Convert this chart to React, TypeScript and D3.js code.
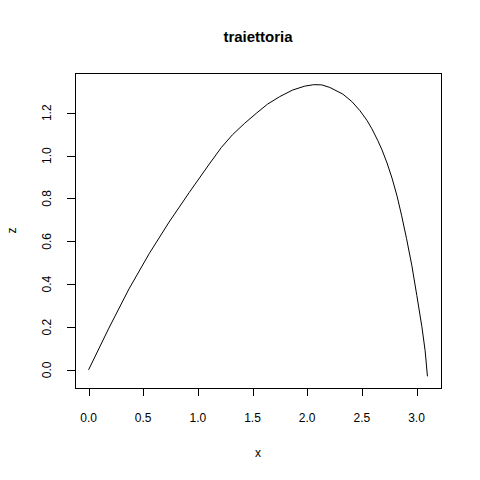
// App.tsx
import React, { useRef, useEffect } from "react";
import * as d3 from "d3";

// punti della traiettoria
const xs = [0, 0.186, 0.37, 0.554, 0.737, 0.921, 1.105, 1.215, 1.316, 1.426, 1.536, 1.637, 1.748, 1.867, 1.977, 2.06, 2.133, 2.207, 2.326, 2.409, 2.482, 2.546, 2.592, 2.647, 2.684, 2.73, 2.776, 2.822, 2.863, 2.909, 2.957, 3.003, 3.049, 3.079, 3.1];
const zs = [0, 0.195, 0.378, 0.542, 0.69, 0.828, 0.961, 1.038, 1.097, 1.15, 1.198, 1.24, 1.275, 1.306, 1.324, 1.331, 1.33, 1.318, 1.287, 1.252, 1.21, 1.165, 1.125, 1.069, 1.027, 0.966, 0.895, 0.811, 0.722, 0.612, 0.488, 0.347, 0.202, 0.089, -0.03];

const xTicks = [0, 0.5, 1, 1.5, 2, 2.5, 3];
const zTicks = [0, 0.2, 0.4, 0.6, 0.8, 1.0, 1.2];

const title = "traiettoria";
const xLabel = "x";
const zLabel = "z";

const App: React.FC = () => {
  const ref = useRef<SVGSVGElement | null>(null);

  useEffect(() => {
    if (!ref.current) return;

    const width = 480;
    const height = 480;
    const left = 75, right = 441, top = 73, bottom = 388;
    const font = "'Liberation Sans', Arial, Helvetica, sans-serif";

    // come in R: estensione del 4% oltre i dati
    const pad = (e: [number, number]) => {
      const d = (e[1] - e[0]) * 0.04;
      return [e[0] - d, e[1] + d];
    };
    const x = d3.scaleLinear().domain(pad(d3.extent(xs) as [number, number])).range([left, right]);
    const y = d3.scaleLinear().domain(pad(d3.extent(zs) as [number, number])).range([bottom, top]);

    const svg = d3
      .select(ref.current)
      .attr("width", width)
      .attr("height", height)
      .attr("style", "position:absolute; left:0; top:0; background:#fff;");

    svg.append("rect")
      .attr("width", width)
      .attr("height", height)
      .attr("fill", "#fff");

    // riquadro
    svg.append("rect")
      .attr("x", left + 0.5)
      .attr("y", top + 0.5)
      .attr("width", right - left)
      .attr("height", bottom - top)
      .attr("fill", "none")
      .attr("stroke", "#000")
      .attr("shape-rendering", "crispEdges");

    // asse x
    const gx = svg.append("g");
    gx.selectAll("line")
      .data(xTicks)
      .join("line")
      .attr("x1", (d) => Math.round(x(d)) + 0.5)
      .attr("x2", (d) => Math.round(x(d)) + 0.5)
      .attr("y1", bottom)
      .attr("y2", bottom + 8)
      .attr("stroke", "#000")
      .attr("shape-rendering", "crispEdges");
    gx.selectAll("text")
      .data(xTicks)
      .join("text")
      .attr("x", (d) => x(d))
      .attr("y", 421.5)
      .attr("text-anchor", "middle")
      .attr("font-family", font)
      .attr("font-size", 12)
      .text((d) => d3.format(".1f")(d));

    // asse z
    const gy = svg.append("g");
    gy.selectAll("line")
      .data(zTicks)
      .join("line")
      .attr("y1", (d) => Math.round(y(d)) + 0.5)
      .attr("y2", (d) => Math.round(y(d)) + 0.5)
      .attr("x1", left - 8)
      .attr("x2", left)
      .attr("stroke", "#000")
      .attr("shape-rendering", "crispEdges");
    gy.selectAll("text")
      .data(zTicks)
      .join("text")
      .attr("transform", (d) => `translate(50.5,${y(d)}) rotate(-90)`)
      .attr("text-anchor", "middle")
      .attr("font-family", font)
      .attr("font-size", 12)
      .text((d) => d3.format(".1f")(d));

    // etichette e titolo
    svg.append("text")
      .attr("x", (left + right) / 2)
      .attr("y", 457)
      .attr("text-anchor", "middle")
      .attr("font-family", font)
      .attr("font-size", 12)
      .text(xLabel);
    svg.append("text")
      .attr("transform", `translate(16,${(top + bottom) / 2}) rotate(-90)`)
      .attr("text-anchor", "middle")
      .attr("font-family", font)
      .attr("font-size", 12)
      .text(zLabel);
    svg.append("text")
      .attr("x", (left + right) / 2)
      .attr("y", 42)
      .attr("text-anchor", "middle")
      .attr("font-family", font)
      .attr("font-size", 15)
      .attr("font-weight", "bold")
      .text(title);

    // traiettoria
    const line = d3
      .line<number>()
      .x((d) => x(d))
      .y((_d, i) => y(zs[i]));
    svg.append("path")
      .datum(xs)
      .attr("d", line)
      .attr("fill", "none")
      .attr("stroke", "#000")
      .attr("stroke-width", 1);

    return () => {
      svg.selectAll("*").remove();
    };
  }, []);

  return <svg ref={ref}></svg>;
};

export default App;
